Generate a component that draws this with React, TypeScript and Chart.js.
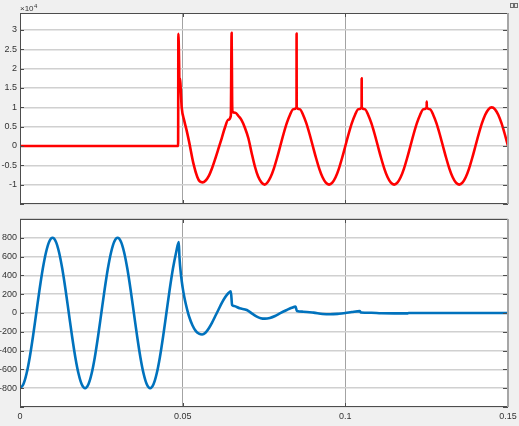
import React, { useEffect, useRef } from "react";
import { Chart, registerables } from "chart.js";

Chart.register(...registerables);

// ---------- data ----------
const X_TICKS = [0, 0.05, 0.1, 0.15];
const X_LABELS = ["0", "0.05", "0.1", "0.15"];

const TOP_Y_TICKS = [-15000, -10000, -5000, 0, 5000, 10000, 15000, 20000, 25000, 30000];
const TOP_Y_LABELS = ["", "-1", "-0.5", "0", "0.5", "1", "1.5", "2", "2.5", "3"];

const BOT_Y_TICKS = [-1000, -800, -600, -400, -200, 0, 200, 400, 600, 800, 1000];
const BOT_Y_LABELS = ["", "-800", "-600", "-400", "-200", "0", "200", "400", "600", "800", ""];

// red trace (upper plot), time [s]
const RED_T = [
  0, 0.0486, 0.04868, 0.0489, 0.049, 0.04915, 0.0497, 0.0505, 0.0512, 0.052,
  0.0533, 0.0545, 0.0553, 0.0561, 0.057, 0.058, 0.059, 0.0599, 0.061, 0.062,
  0.063, 0.064, 0.0648, 0.06505, 0.0652, 0.0653, 0.0662, 0.0672, 0.0681, 0.0691,
  0.0702, 0.0712, 0.0722, 0.0732, 0.0742, 0.0752,
  0.076, 0.077, 0.078, 0.079, 0.08, 0.081, 0.082, 0.083, 0.084, 0.085, 0.08502, 0.08505,
  0.086, 0.087, 0.088, 0.089, 0.09, 0.091, 0.092, 0.093, 0.094, 0.095,
  0.096, 0.097, 0.098, 0.099, 0.1, 0.101, 0.102, 0.103, 0.104, 0.105, 0.10502, 0.10505,
  0.106, 0.107, 0.108, 0.109, 0.11, 0.111, 0.112, 0.113, 0.114, 0.115,
  0.116, 0.117, 0.118, 0.119, 0.12, 0.121, 0.122, 0.123, 0.124, 0.125, 0.12502, 0.12505,
  0.126, 0.127, 0.128, 0.129, 0.13, 0.131, 0.132, 0.133, 0.134, 0.135,
  0.136, 0.137, 0.138, 0.139, 0.14, 0.141, 0.142, 0.143, 0.144, 0.145,
  0.146, 0.147, 0.148, 0.149, 0.15,
];
const RED_V = [
  0, 0, 29000, 22000, 16500, 17500, 10000, 6500, 4100, 1000,
  -4500, -8000, -9200, -9400, -9000, -7800, -5800, -3600, -700, 2000,
  4800, 6800, 7800, 29300, 12000, 8900, 8600, 7700, 6700, 4800,
  2000, -1800, -5300, -7900, -9400, -10000,
  -9500, -8100, -5900, -3100, 0, 3100, 5900, 8100, 9500, 10000, 29100, 10000,
  9500, 8100, 5900, 3100, 0, -3100, -5900, -8100, -9500, -10000,
  -9500, -8100, -5900, -3100, 0, 3100, 5900, 8100, 9500, 10000, 17500, 10000,
  9500, 8100, 5900, 3100, 0, -3100, -5900, -8100, -9500, -10000,
  -9500, -8100, -5900, -3100, 0, 3100, 5900, 8100, 9500, 10000, 11500, 10000,
  9500, 8100, 5900, 3100, 0, -3100, -5900, -8100, -9500, -10000,
  -9500, -8100, -5900, -3100, 0, 3100, 5900, 8100, 9500, 10000,
  9500, 8100, 5900, 3100, 0,
];

// blue trace (lower plot), time [s]
const BLUE_T = [
  0, 0.001, 0.002, 0.003, 0.004, 0.005, 0.006, 0.007, 0.008, 0.009,
  0.01, 0.011, 0.012, 0.013, 0.014, 0.015, 0.016, 0.017, 0.018, 0.019,
  0.02, 0.021, 0.022, 0.023, 0.024, 0.025, 0.026, 0.027, 0.028, 0.029,
  0.03, 0.031, 0.032, 0.033, 0.034, 0.035, 0.036, 0.037, 0.038, 0.039,
  0.04, 0.041, 0.042, 0.043, 0.044, 0.045, 0.046, 0.047, 0.048,
  0.0488, 0.049, 0.0495, 0.05, 0.0505, 0.051, 0.0515, 0.052, 0.053, 0.054,
  0.055, 0.056, 0.057, 0.058, 0.059, 0.06, 0.061, 0.062, 0.063, 0.064,
  0.0648, 0.0652, 0.0658, 0.0675, 0.0697, 0.0715, 0.0728, 0.074, 0.0753, 0.0768,
  0.0784, 0.08, 0.082, 0.0835, 0.0847, 0.0851, 0.087, 0.0902, 0.093, 0.0953,
  0.098, 0.1, 0.102, 0.1044, 0.1048, 0.108, 0.111, 0.115, 0.119, 0.1195,
  0.13, 0.15,
];
const BLUE_V = [
  -800, -761, -647, -470, -247, 0, 247, 470, 647, 761,
  800, 761, 647, 470, 247, 0, -247, -470, -647, -761,
  -800, -761, -647, -470, -247, 0, 247, 470, 647, 761,
  800, 761, 647, 470, 247, 0, -247, -470, -647, -761,
  -800, -761, -647, -470, -247, 0, 247, 470, 647,
  755, 600, 400, 270, 170, 90, 20, -40, -130, -190,
  -220, -228, -210, -165, -105, -35, 35, 105, 165, 210,
  232, 85, 74, 50, 32, -10, -38, -55, -60, -52,
  -32, -2, 32, 55, 68, 22, 14, 4, -10, -14,
  -8, 0, 10, 20, 6, 2, -3, -4, -4, 0,
  0, 0,
];

// ---------- styling ----------
const FONT = "'Liberation Sans', Arial, Helvetica, sans-serif";
const TEXT_COLOR = "#333333";
const FRAME_COLOR = "#4d4d4d";

const framePlugin = {
  id: "frame",
  beforeDraw(chart: any) {
    const { ctx, chartArea } = chart;
    const { left, top, right, bottom } = chartArea;
    ctx.save();
    ctx.fillStyle = "#ffffff";
    ctx.fillRect(left, top, right - left, bottom - top);
    ctx.restore();
  },
  afterDraw(chart: any) {
    const { ctx, chartArea, scales } = chart;
    const { left, top, right, bottom } = chartArea;
    ctx.save();
    ctx.lineWidth = 1;
    ctx.strokeStyle = FRAME_COLOR;
    const yTicks = scales.y.ticks.map((t: any) => t.value);
    ctx.beginPath();
    for (const v of yTicks) {
      const py = Math.round(scales.y.getPixelForValue(v)) + 0.5;
      ctx.moveTo(left, py);
      ctx.lineTo(left + 4, py);
      ctx.moveTo(right - 5, py);
      ctx.lineTo(right, py);
    }
    for (const v of X_TICKS) {
      const px = Math.round(scales.x.getPixelForValue(v)) + 0.5;
      ctx.moveTo(px, bottom);
      ctx.lineTo(px, bottom - 4);
      ctx.moveTo(px, top);
      ctx.lineTo(px, top + 4);
    }
    ctx.stroke();
    const l = Math.round(left) + 0.5;
    const t = Math.round(top) + 0.5;
    const b = Math.round(bottom) - 0.5;
    const r = Math.round(right);
    ctx.beginPath();
    ctx.moveTo(l, b);
    ctx.lineTo(l, t);
    ctx.lineTo(r, t);
    ctx.moveTo(l, b);
    ctx.lineTo(r, b);
    ctx.stroke();
    ctx.fillStyle = "#a6a6a6";
    ctx.fillRect(r - 1, Math.round(top), 2, Math.round(bottom) - Math.round(top));
    ctx.restore();
  },
};

const topDecorPlugin = {
  id: "topDecor",
  afterDraw(chart: any) {
    const { ctx, chartArea } = chart;
    ctx.save();
    ctx.fillStyle = TEXT_COLOR;
    ctx.textBaseline = "alphabetic";
    ctx.textAlign = "left";
    ctx.font = `8px ${FONT}`;
    const x0 = chartArea.left;
    ctx.fillText("×10", x0, 11);
    const w = ctx.measureText("×10").width;
    ctx.font = `6px ${FONT}`;
    ctx.fillText("4", x0 + w + 0.5, 7.5);
    ctx.fillStyle = "#6e6e6e";
    ctx.fillRect(510, 3, 8, 5);
    ctx.fillStyle = "#e8e8e8";
    ctx.fillRect(511, 4, 2, 3);
    ctx.fillRect(515, 4, 2, 3);
    ctx.restore();
  },
};

function makeChart(
  canvas: HTMLCanvasElement,
  t: number[],
  v: number[],
  color: string,
  yMin: number,
  yMax: number,
  yTicks: number[],
  yLabels: string[],
  showXLabels: boolean,
  padding: any,
  xHeight: number,
  plugins: any[]
) {
  return new Chart(canvas, {
    type: "line",
    data: {
      datasets: [
        {
          data: t.map((x, i) => ({ x, y: v[i] })),
          borderColor: color,
          borderWidth: 2.6,
          pointRadius: 0,
          cubicInterpolationMode: "monotone",
          borderJoinStyle: "round",
          fill: false,
        },
      ],
    },
    options: {
      responsive: false,
      animation: false,
      events: [],
      layout: { padding },
      plugins: { legend: { display: false }, tooltip: { enabled: false }, title: { display: false } },
      scales: {
        x: {
          type: "linear",
          min: 0,
          max: 0.15,
          afterBuildTicks: (s: any) => {
            s.ticks = X_TICKS.map((value) => ({ value }));
          },
          afterFit: (s: any) => {
            s.height = xHeight;
            s.paddingLeft = 0;
            s.paddingRight = 0;
          },
          ticks: {
            display: showXLabels,
            autoSkip: false,
            maxRotation: 0,
            padding: 4,
            color: TEXT_COLOR,
            font: { size: 9, family: FONT },
            callback: (value: any) => {
              const i = X_TICKS.indexOf(Number(value));
              return i >= 0 ? X_LABELS[i] : "";
            },
          },
          grid: { color: "#a3a3a3", lineWidth: 1, drawTicks: false },
          border: { display: false },
        },
        y: {
          type: "linear",
          min: yMin,
          max: yMax,
          afterBuildTicks: (s: any) => {
            s.ticks = yTicks.map((value) => ({ value }));
          },
          afterFit: (s: any) => {
            s.width = 20;
            s.paddingTop = 0;
            s.paddingBottom = 0;
          },
          ticks: {
            autoSkip: false,
            padding: 3,
            color: TEXT_COLOR,
            font: { size: 9, family: FONT },
            callback: (value: any) => {
              const i = yTicks.indexOf(Number(value));
              return i >= 0 ? yLabels[i] : "";
            },
          },
          grid: { color: "#d0d0d0", lineWidth: 1.5, drawTicks: false },
          border: { display: false },
        },
      },
    },
    plugins,
  } as any);
}

export default function App() {
  const topRef = useRef<HTMLCanvasElement>(null);
  const botRef = useRef<HTMLCanvasElement>(null);

  useEffect(() => {
    const c1 = makeChart(
      topRef.current as HTMLCanvasElement,
      RED_T,
      RED_V,
      "#ff0000",
      -15000,
      34400,
      TOP_Y_TICKS,
      TOP_Y_LABELS,
      false,
      { top: 13, right: 11, bottom: 6, left: 0 },
      0,
      [framePlugin, topDecorPlugin]
    );
    const c2 = makeChart(
      botRef.current as HTMLCanvasElement,
      BLUE_T,
      BLUE_V,
      "#0072bd",
      -1000,
      1000,
      BOT_Y_TICKS,
      BOT_Y_LABELS,
      true,
      { top: 9, right: 11, bottom: 0, left: 0 },
      19,
      [framePlugin]
    );
    return () => {
      c1.destroy();
      c2.destroy();
    };
  }, []);

  return (
    <div
      style={{
        position: "fixed",
        left: 0,
        top: 0,
        width: 519,
        height: 426,
        background: "#f0f0f0",
        overflow: "hidden",
      }}
    >
      <canvas ref={topRef} width={519} height={210} style={{ position: "absolute", left: 0, top: 0 }} />
      <canvas ref={botRef} width={519} height={216} style={{ position: "absolute", left: 0, top: 210 }} />
    </div>
  );
}
